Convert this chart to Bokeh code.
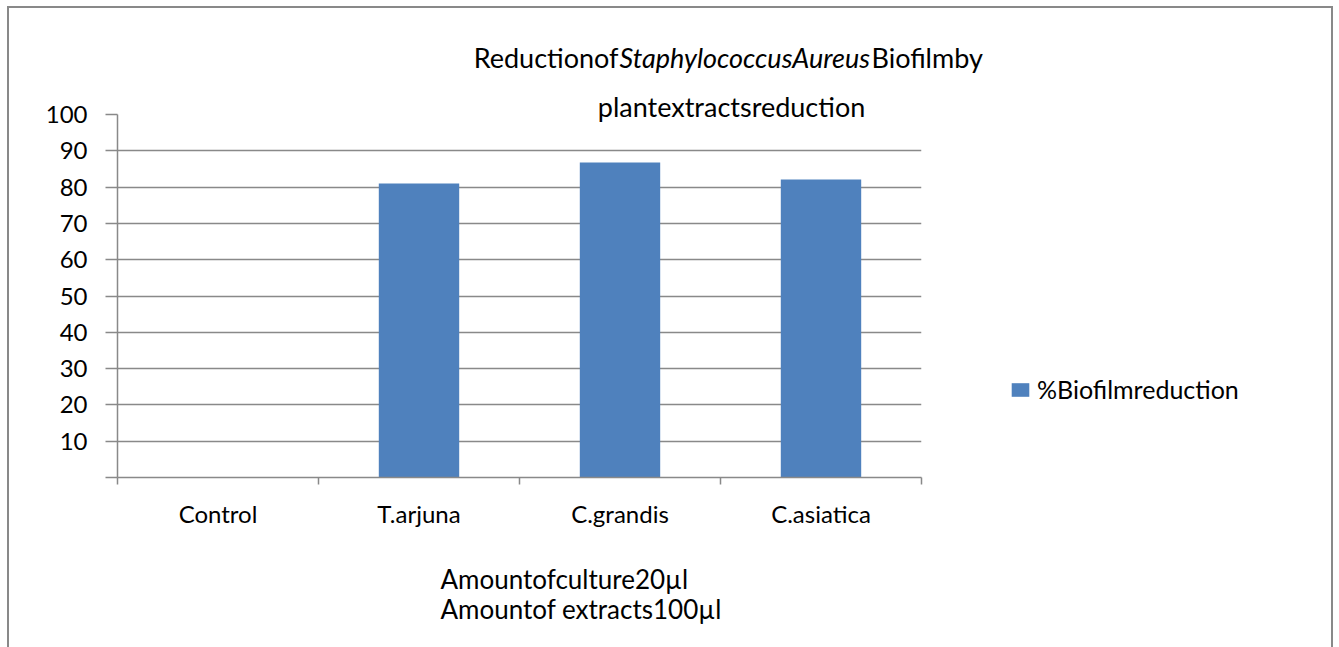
import numpy as np
from bokeh.plotting import figure
from bokeh.models import Legend, LegendItem, Label, FixedTicker, Range1d
from bokeh.embed import file_html
from bokeh.resources import INLINE

# ---- data ----
categories = ["Control", "T.arjuna", "C.grandis", "C.asiatica"]
reduction = [0.0, 81.0, 86.8, 82.1]
y_ticks = [0, 10, 20, 30, 40, 50, 60, 70, 80, 90, 100]
y_tick_labels = ["", "10", "20", "30", "40", "50", "60", "70", "80", "90", "100"]
series_name = "%Biofilmreduction"
title_parts = ["Reductionof", "StaphylococcusAureus", "Biofilmby"]
title_line2 = "plantextractsreduction"
x_title_lines = ["Amountofculture20\u00b5l", "Amountof extracts100\u00b5l"]

FONT = "Lato"
FS = "24px"
TFS = "27px"
GRAY = "#898989"
BAR = "#4F81BD"

n = len(categories)
xpos = [i + 0.5 for i in range(n)]

W, H = 1326, 641
p = figure(width=W, height=H, frame_width=804, frame_height=363,
           output_backend="svg", toolbar_location=None,
           x_range=Range1d(0, n), y_range=Range1d(0, 100),
           min_border_left=108, min_border_right=414,
           min_border_top=106, min_border_bottom=172)
p.margin = (6, 0, 0, 7)
p.styles = {"border-left": f"2px solid {GRAY}",
            "border-top": f"2px solid {GRAY}",
            "border-right": f"2px solid {GRAY}",
            "box-sizing": "border-box",
            "width": f"{W}px", "max-width": f"{W}px",
            "height": f"{H}px", "overflow": "hidden"}
p.outline_line_color = None
p.background_fill_color = "white"
p.border_fill_color = "white"

r = p.vbar(x=xpos, top=reduction, bottom=0, width=0.4,
           fill_color=BAR, line_color=None)

# x axis
xa = p.xaxis[0]
xa.ticker = FixedTicker(ticks=xpos, minor_ticks=list(range(n + 1)))
xa.major_label_overrides = {x: c for x, c in zip(xpos, categories)}
xa.major_tick_line_color = None
xa.major_tick_out = 0
xa.major_tick_in = 0
xa.minor_tick_line_color = GRAY
xa.minor_tick_line_width = 1.5
xa.minor_tick_out = 7
xa.minor_tick_in = 0
xa.axis_line_color = GRAY
xa.axis_line_width = 1.5
xa.major_label_text_font = FONT
xa.major_label_text_font_size = FS
xa.major_label_text_color = "black"
xa.major_label_standoff = 14

# y axis
ya = p.yaxis[0]
ya.ticker = FixedTicker(ticks=y_ticks, minor_ticks=[])
ya.major_label_overrides = {t: l for t, l in zip(y_ticks, y_tick_labels)}
ya.major_tick_line_color = GRAY
ya.major_tick_line_width = 1.5
ya.major_tick_out = 12
ya.major_tick_in = 0
ya.axis_line_color = GRAY
ya.axis_line_width = 1.5
ya.major_label_text_font = FONT
ya.major_label_text_font_size = FS
ya.major_label_text_color = "black"
ya.major_label_standoff = 18

p.xgrid.visible = False
p.ygrid.ticker = FixedTicker(ticks=y_ticks, minor_ticks=[])
p.ygrid.grid_line_color = GRAY
p.ygrid.grid_line_width = 1.5

# legend (side panel, so it is not clipped to the frame)
legend = Legend(items=[LegendItem(label=series_name, renderers=[r])],
                location=(88, 73), orientation="vertical",
                glyph_width=22, glyph_height=17, label_standoff=6,
                padding=0, margin=0, spacing=0,
                border_line_color=None, background_fill_alpha=0,
                label_text_font=FONT, label_text_font_size="25px",
                label_text_color="black")
p.add_layout(legend, "right")

# canvas origin in page pixels
OX, OY = 9, 8
def cx(px):
    return px - OX
def cy(py):
    return py - OY

def add_text(txt, px, py, align="left", style="normal", side="above", size=FS):
    p.add_layout(Label(x=cx(px), y=cy(py), x_units="canvas", y_units="canvas",
                       text=txt, text_font=FONT, text_font_size=size,
                       text_font_style=style, text_align=align,
                       text_baseline="alphabetic", text_color="black"), side)

# title line 1: italic species name in the middle, neighbours abutting it
ital_left, ital_right = 617, 868
add_text(title_parts[0], ital_left - 1, 55, align="right", size=TFS, side="above")
add_text(title_parts[1], ital_left, 55, align="left", style="italic", size=TFS, side="above")
add_text(title_parts[2], ital_right + 1, 55, align="left", size=TFS, side="above")
add_text(title_line2, 729, 104, align="center", size=TFS, side="below")
for line, by in zip(x_title_lines, [576, 606]):
    add_text(line, 438, by, size="26px", side="below")

open("out.html", "w").write(file_html(p, INLINE))
